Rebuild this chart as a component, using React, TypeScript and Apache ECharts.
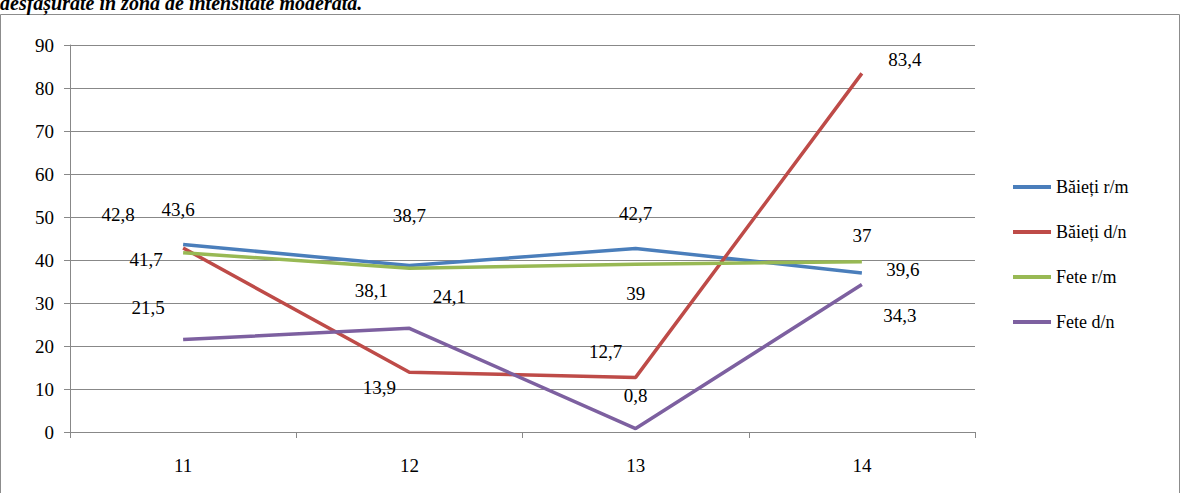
import React, { useEffect, useRef } from 'react';
import * as echarts from 'echarts';

const categories = ['11', '12', '13', '14'];
const seriesNames = ['Băieți r/m', 'Băieți d/n', 'Fete r/m', 'Fete d/n'];
const baietiRm = [43.6, 38.7, 42.7, 37];
const baietiDn = [42.8, 13.9, 12.7, 83.4];
const feteRm = [41.7, 38.1, 39, 39.6];
const feteDn = [21.5, 24.1, 0.8, 34.3];
const colors = ['#4A7EBB', '#BE4B48', '#98B954', '#7D60A0'];

// label offsets per point, mimicking the original placement
const labelOffsets: [number, number][][] = [
  [[-5, -35], [0, -50], [0, -35], [0, -37]],
  [[-65, -33], [-30, 15], [-30, -26], [43, -14]],
  [[-37, 7], [-38, 22], [0, 29], [41, 8]],
  [[-35, -32], [40, -32], [0, -33], [38, 31]],
];

const FAMILY = '"Liberation Serif", "Times New Roman", serif';

const App: React.FC = () => {
  const chartref = useRef<HTMLDivElement>(null);
  useEffect(() => {
    const myChart = echarts.init(chartref.current as HTMLDivElement, undefined, { renderer: 'svg' });
    const all = [baietiRm, baietiDn, feteRm, feteDn];
    const font = { fontFamily: FAMILY, fontSize: 19, color: '#000' };
    const option: echarts.EChartsOption = {
      animation: false,
      textStyle: { fontFamily: FAMILY },
      graphic: [
        {
          type: 'rect',
          shape: { x: 0.5, y: 14.5, width: 1179, height: 480 },
          style: { fill: 'none', stroke: '#8c8c8c', lineWidth: 1 },
        },
        {
          type: 'text',
          left: 0,
          top: -7,
          style: {
            text: 'desfășurate în zona de intensitate moderată.',
            font: 'bold italic 20px "Liberation Serif", serif',
            fill: '#000',
          },
        },
      ],
      grid: { left: 70, right: 206, top: 45, bottom: 61 },
      legend: {
        orient: 'vertical',
        left: 1008,
        top: 173,
        itemGap: 27,
        itemWidth: 38,
        itemHeight: 4,
        icon: 'rect',
        data: seriesNames,
        textStyle: { ...font, fontSize: 18 },
      },
      xAxis: {
        type: 'category',
        data: categories,
        axisLine: { lineStyle: { color: '#888' } },
        axisTick: { show: true, length: 6, lineStyle: { color: '#888' } },
        axisLabel: { ...font, margin: 24 },
      },
      yAxis: {
        type: 'value',
        min: 0,
        max: 90,
        interval: 10,
        axisLine: { show: true, lineStyle: { color: '#888' } },
        axisTick: { show: true, length: 6, lineStyle: { color: '#888' } },
        axisLabel: { ...font, margin: 16 },
        splitLine: { lineStyle: { color: '#888' } },
      },
      series: seriesNames.map((name, i) => ({
        name,
        type: 'line',
        symbol: 'circle',
        symbolSize: 0.1,
        showSymbol: true,
        color: colors[i],
        lineStyle: { width: 3.5, color: colors[i] },
        data: all[i].map((v, j) => ({
          value: v,
          label: {
            show: true,
            position: 'inside',
            offset: labelOffsets[i][j],
            formatter: String(v).replace('.', ','),
            ...font,
          },
        })),
      })),
    } as echarts.EChartsOption;
    myChart.setOption(option);
    return () => {
      myChart.dispose();
    };
  }, []);

  return (
    <div
      ref={chartref}
      style={{ position: 'absolute', left: 0, top: 0, height: '493px', width: '1181px', background: '#fff' }}
    />
  );
};
export default App;
